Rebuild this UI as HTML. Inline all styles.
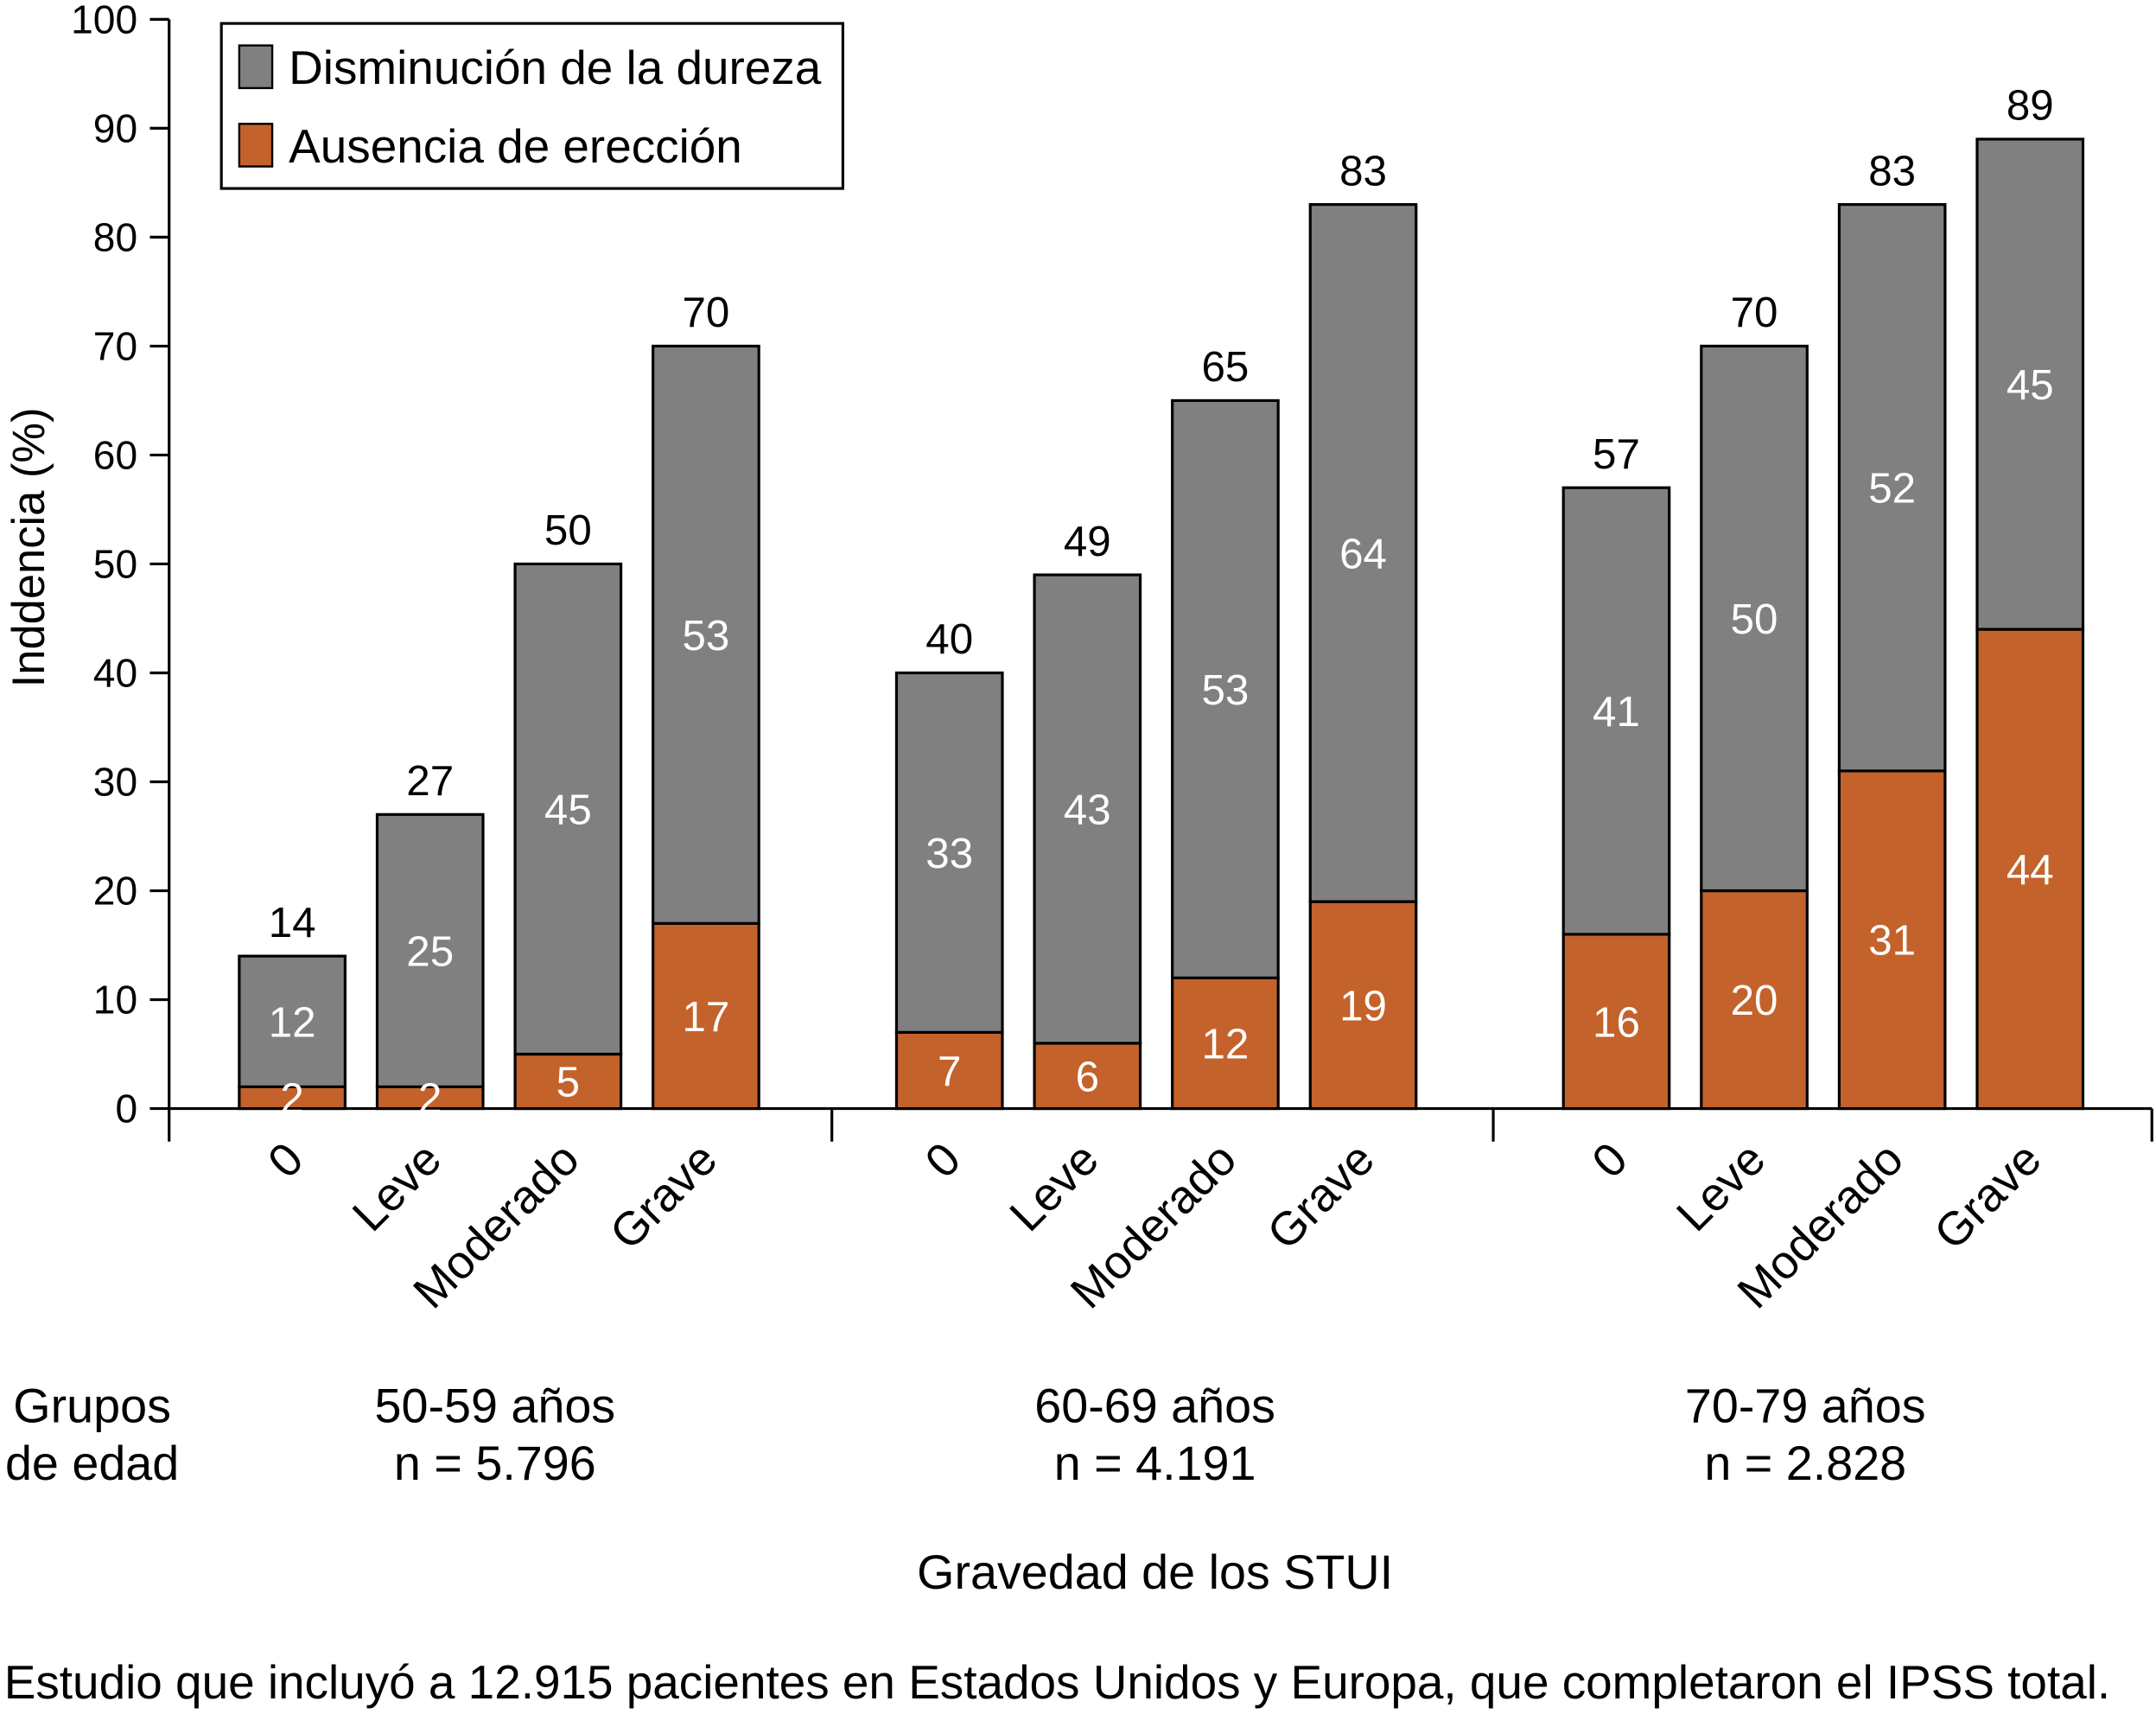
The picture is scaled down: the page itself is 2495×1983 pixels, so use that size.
<!DOCTYPE html>
<html><head><meta charset="utf-8"><style>
html,body{margin:0;padding:0;background:#fff}
svg text{font-family:"Liberation Sans",Arial,sans-serif}
</style></head><body>
<svg id="chart" width="2495" height="1978" viewBox="0 0 1568 1243" xmlns="http://www.w3.org/2000/svg">
<g id="axes"></g>
<g id="bars"></g>
<g>
<rect x="161" y="17" width="452" height="120" fill="#fff" stroke="#000" stroke-width="2"/>
<rect x="174" y="33" width="24" height="31" fill="#808080" stroke="#000" stroke-width="1.5"/>
<text x="210" y="61" font-size="34.5">Disminución de la dureza</text>
<rect x="174" y="90" width="24" height="31" fill="#c4622b" stroke="#000" stroke-width="1.5"/>
<text x="210" y="118" font-size="34.5">Ausencia de erección</text>
</g>
<text transform="translate(32,398) rotate(-90)" text-anchor="middle" font-size="33">Inddencia (%)</text>
<text x="67" y="1034" text-anchor="middle" font-size="35">Grupos</text>
<text x="67" y="1076" text-anchor="middle" font-size="35">de edad</text>
<g id="groups"></g>
<text x="840" y="1155" text-anchor="middle" font-size="35">Gravedad de los STUI</text>
<text x="3" y="1235" font-size="34.5">Estudio que incluyó a 12.915 pacientes en Estados Unidos y Europa, que completaron el IPSS total.</text>
</svg>
<script>
const categories=["0","Leve","Moderado","Grave","0","Leve","Moderado","Grave","0","Leve","Moderado","Grave"];
const ausencia=[2,2,5,17,7,6,12,19,16,20,31,44];
const totals=[14,27,50,70,40,49,65,83,57,70,83,89];
const groupNames=["50-59 años","60-69 años","70-79 años"];
const groupN=["n = 5.796","n = 4.191","n = 2.828"];
const yTicks=[0,10,20,30,40,50,60,70,80,90,100];

const NS="http://www.w3.org/2000/svg";
const y0=806,y100=14;
function yScale(v){return y0-(y0-y100)*v/100;}
const gStart=[174,652,1137],step=100.3,barW=77;
function xScale(i){return gStart[Math.floor(i/4)]+(i%4)*step;}
function mk(tag,attrs,parent,txt){const e=document.createElementNS(NS,tag);for(const k in attrs)e.setAttribute(k,attrs[k]);if(txt!==undefined)e.textContent=txt;parent.appendChild(e);return e;}
const axes=document.getElementById('axes'),bars=document.getElementById('bars'),groups=document.getElementById('groups');
let a=mk('line',{x1:123,y1:14,x2:123,y2:830,stroke:'#000','stroke-width':2},axes);


a=mk('line',{x1:123,y1:806,x2:1565,y2:806,stroke:'#000','stroke-width':2},axes);


[605,1086,1565].forEach(x=>{const t=mk('line',{x1:x,y1:806,x2:x,y2:830,stroke:'#000','stroke-width':2},axes);

});
yTicks.forEach(v=>{const y=yScale(v);
const t=mk('line',{x1:109,y1:y,x2:123,y2:y,stroke:'#000','stroke-width':2},axes);


const l=mk('text',{x:100,y:y+10,'text-anchor':'end','font-size':29},axes,v);

});
categories.forEach((c,i)=>{
const x=xScale(i),cx=x+barW/2,o=ausencia[i],t=totals[i];
const ro=mk('rect',{x:x,y:yScale(o),width:barW,height:yScale(0)-yScale(o),fill:'#c4622b',stroke:'#000','stroke-width':2},bars);


const rg=mk('rect',{x:x,y:yScale(t),width:barW,height:yScale(o)-yScale(t),fill:'#808080',stroke:'#000','stroke-width':2},bars);


const lo=mk('text',{x:cx,y:(yScale(0)+yScale(o))/2+11,'text-anchor':'middle','font-size':31,fill:'#fff'},bars,o);


const lg=mk('text',{x:cx,y:(yScale(o)+yScale(t))/2+11,'text-anchor':'middle','font-size':31,fill:'#fff'},bars,t-o);


const lt=mk('text',{x:cx,y:yScale(t)-14,'text-anchor':'middle','font-size':31},bars,t);


const cl=mk('text',{transform:`translate(${cx+10},845) rotate(-45)`,'text-anchor':'end','font-size':34},bars,c);


});
groupNames.forEach((g,k)=>{const cx=[360,840,1313][k];
const a1=mk('text',{x:cx,y:1034,'text-anchor':'middle','font-size':35},groups,g);


const a2=mk('text',{x:cx,y:1076,'text-anchor':'middle','font-size':35},groups,groupN[k]);

});
</script>
</body></html>
